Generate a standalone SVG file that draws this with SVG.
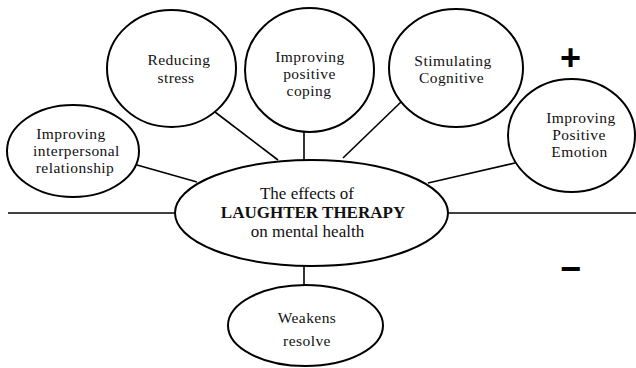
<svg xmlns="http://www.w3.org/2000/svg" width="636" height="368" viewBox="0 0 636 368">
<style>
.node ellipse{fill:#fff;stroke:#000;stroke-width:2}
.lbl{font-family:'Liberation Serif',serif;font-size:15.5px;letter-spacing:0.45px;fill:#111;text-anchor:middle}
.big{font-size:17px;letter-spacing:0}
.conn line{stroke:#000;stroke-width:1.6}
.sign{font-family:'Liberation Sans',sans-serif;font-weight:bold;font-size:36px;fill:#000;text-anchor:middle}
</style>
<rect width="636" height="368" fill="#fff"/>
<g id="connectors" class="conn">
<line x1="8" y1="213" x2="176" y2="213"/>
<line x1="447" y1="213" x2="636" y2="213"/>
<line x1="137" y1="165" x2="197" y2="182"/>
<line x1="215" y1="112" x2="278" y2="160"/>
<line x1="304" y1="131" x2="304" y2="160"/>
<line x1="401" y1="102" x2="343" y2="158"/>
<line x1="515" y1="163" x2="428" y2="183"/>
<line x1="304" y1="266" x2="304" y2="286"/>
</g>
<g id="interpersonal" class="node">
<ellipse cx="73" cy="151" rx="66" ry="46"/>
<text class="lbl" font-family="Liberation Serif, serif" x="71" y="138.5">Improving</text>
<text class="lbl" font-family="Liberation Serif, serif" x="76.5" y="155.7">interpersonal</text>
<text class="lbl" font-family="Liberation Serif, serif" x="75" y="172.9">relationship</text>
</g>
<g id="stress" class="node">
<ellipse cx="171.5" cy="68.5" rx="64.5" ry="58.5"/>
<text class="lbl" font-family="Liberation Serif, serif" x="179" y="65">Reducing</text>
<text class="lbl" font-family="Liberation Serif, serif" x="176" y="83">stress</text>
</g>
<g id="coping" class="node">
<ellipse cx="309.5" cy="70" rx="64.5" ry="62"/>
<text class="lbl" font-family="Liberation Serif, serif" x="310" y="62">Improving</text>
<text class="lbl" font-family="Liberation Serif, serif" x="309.5" y="79.2">positive</text>
<text class="lbl" font-family="Liberation Serif, serif" x="309" y="96.4">coping</text>
</g>
<g id="cognitive" class="node">
<ellipse cx="456" cy="68" rx="67" ry="59"/>
<text class="lbl" font-family="Liberation Serif, serif" x="453" y="65.5">Stimulating</text>
<text class="lbl" font-family="Liberation Serif, serif" x="451.5" y="82.7">Cognitive</text>
</g>
<g id="emotion" class="node">
<ellipse cx="571.5" cy="135.5" rx="63.5" ry="56.5"/>
<text class="lbl" font-family="Liberation Serif, serif" x="581" y="123">Improving</text>
<text class="lbl" font-family="Liberation Serif, serif" x="579" y="140.2">Positive</text>
<text class="lbl" font-family="Liberation Serif, serif" x="579.5" y="157.4">Emotion</text>
</g>
<g id="center" class="node">
<ellipse cx="311.5" cy="213" rx="136.5" ry="53"/>
<text class="lbl big" font-family="Liberation Serif, serif" x="307" y="199">The effects of</text>
<text class="lbl big" font-family="Liberation Serif, serif" x="313" y="218" font-weight="bold">LAUGHTER THERAPY</text>
<text class="lbl big" font-family="Liberation Serif, serif" x="307.5" y="237">on mental health</text>
</g>
<g id="weakens" class="node">
<ellipse cx="305.5" cy="325.5" rx="77.5" ry="40.5"/>
<text class="lbl" font-family="Liberation Serif, serif" x="307" y="323">Weakens</text>
<text class="lbl" font-family="Liberation Serif, serif" x="307" y="346">resolve</text>
</g>
<text class="sign" x="570.5" y="70">+</text>
<text class="sign" x="570.5" y="281">−</text>
</svg>
